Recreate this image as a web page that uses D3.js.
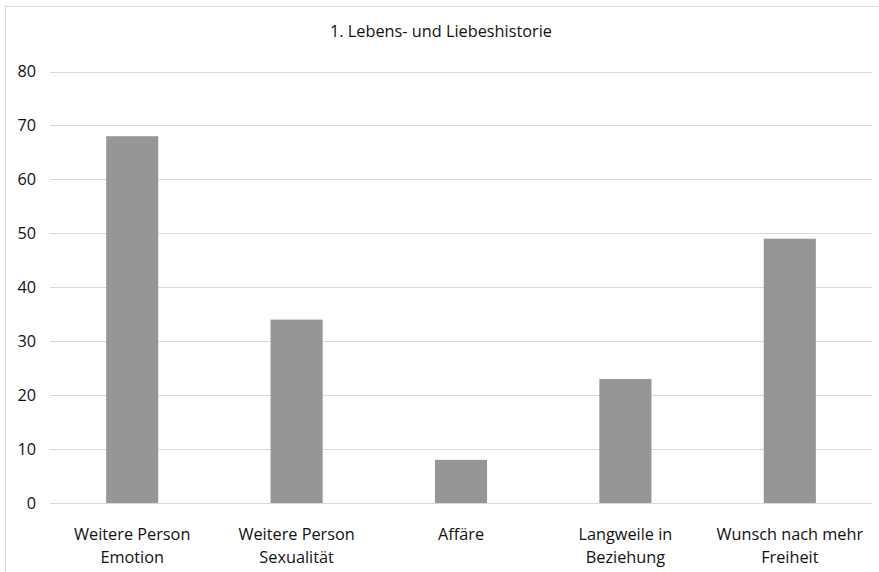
<!DOCTYPE html>
<html><head><meta charset="utf-8">
<script src="https://cdnjs.cloudflare.com/ajax/libs/d3/7.8.5/d3.min.js"></script>
<style>body{margin:0;background:#fff}svg{display:block}</style>
</head><body>
<script>
const title = "1. Lebens- und Liebeshistorie";
const categories = [["Weitere Person","Emotion"],["Weitere Person","Sexualität"],["Affäre"],["Langweile in","Beziehung"],["Wunsch nach mehr","Freiheit"]];
const values = [68, 34, 8, 23, 49];
const yTicks = [0,10,20,30,40,50,60,70,80];

const W = 879, H = 572;
const m = {left: 50, right: 7, top: 71.5, bottom: 69};
const font = "'Open Sans', Lato, sans-serif";
const fs = 16.3;
const svg = d3.select("body").append("svg").attr("width", W).attr("height", H);

// chart border
svg.append("rect").attr("x",5.5).attr("y",6.5).attr("width",W+20).attr("height",H+20)
  .attr("fill","none").attr("stroke","#d9d9d9").attr("stroke-width",1);

const x = d3.scaleBand().domain(d3.range(categories.length)).range([m.left, W - m.right]).paddingInner(0.683).paddingOuter(0.3415);
const y = d3.scaleLinear().domain([0,80]).range([H - m.bottom, m.top]);

// gridlines
svg.append("g").selectAll("line").data(yTicks).join("line")
  .attr("x1", m.left).attr("x2", W - m.right)
  .attr("y1", d => Math.round(y(d)) + 0.5).attr("y2", d => Math.round(y(d)) + 0.5)
  .attr("stroke", "#d9d9d9").attr("stroke-width", 1);

// y axis labels
const yAxis = d3.axisLeft(y).tickValues(yTicks).tickSize(0).tickPadding(0);
const gy = svg.append("g").attr("transform", `translate(${m.left - 14},0)`).call(yAxis);
gy.select(".domain").remove();
gy.selectAll("text").attr("font-family", font).attr("font-size", fs).attr("fill", "#111");

// bars
svg.append("g").selectAll("rect").data(values).join("rect")
  .attr("x", (d,i) => x(i)).attr("width", x.bandwidth())
  .attr("y", d => y(d)).attr("height", d => y(0) - y(d))
  .attr("fill", "#969696");

// x labels
const xAxis = d3.axisBottom(x).tickSize(0).tickFormat(() => "");
const gx = svg.append("g").attr("transform", `translate(0,${y(0)})`).call(xAxis);
gx.select(".domain").remove();
gx.selectAll(".tick").each(function(d){
  const t = d3.select(this).append("text").attr("text-anchor","middle")
    .attr("font-family", font).attr("font-size", fs).attr("fill","#111");
  categories[d].forEach((line, k) => {
    t.append("tspan").attr("x", 0).attr("y", 37 + k*23).text(line);
  });
});

// title
svg.append("text").attr("x", 441).attr("y", 37).attr("text-anchor","middle")
  .attr("font-family", font).attr("font-size", fs).attr("fill","#111").text(title);
</script>
</body></html>
